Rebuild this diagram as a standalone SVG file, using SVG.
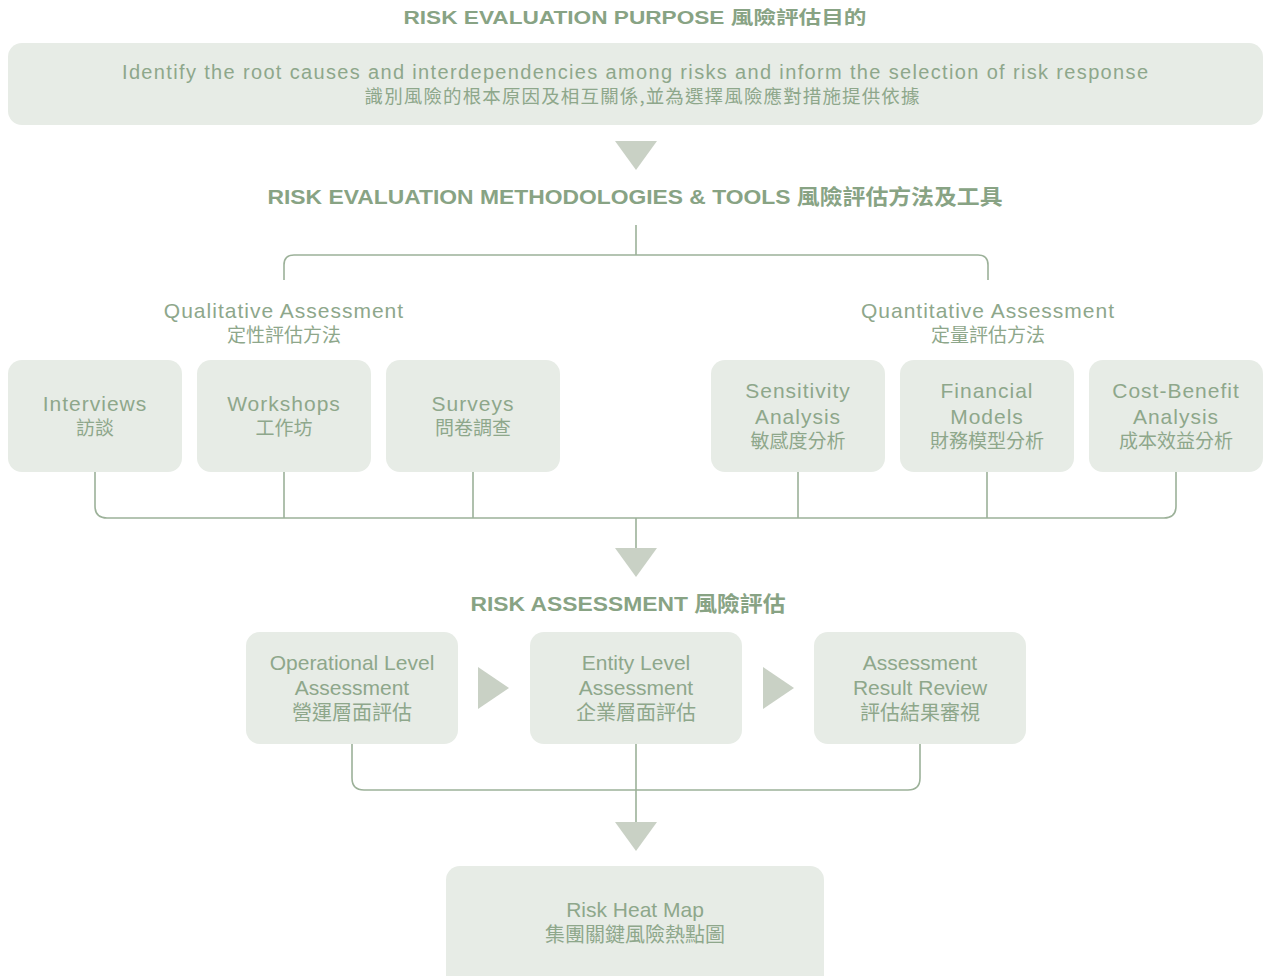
<svg xmlns="http://www.w3.org/2000/svg" width="1263" height="976" viewBox="0 0 1263 976">
<style>
.box{fill:#e7ece6}
.tri{fill:#c9d1c5}
.ln{fill:none;stroke:#9cb199;stroke-width:1.6}
.ttl{font-family:"Liberation Sans","Noto Sans CJK TC",sans-serif;font-weight:bold;fill:#88a384;text-anchor:middle}
.en{font-family:"Liberation Sans","Noto Sans CJK TC",sans-serif;fill:#8ea78b;text-anchor:middle;font-size:21px;letter-spacing:1px}
.cn{font-family:"Noto Sans CJK TC","Liberation Sans",sans-serif;fill:#8ea78b;text-anchor:middle;font-size:19px}
.en2{font-family:"Liberation Sans","Noto Sans CJK TC",sans-serif;fill:#8ea78b;text-anchor:middle;font-size:21px}
</style>
<rect width="1263" height="976" fill="#ffffff"/>

<text class="ttl" x="635" y="24" font-size="18" textLength="463" lengthAdjust="spacingAndGlyphs">RISK EVALUATION PURPOSE 風險評估目的</text>

<g id="purpose">
<rect class="box" x="8" y="43" width="1255" height="82" rx="14"/>
<text class="en" x="635" y="79" style="font-size:20px;letter-spacing:0px" textLength="1026" lengthAdjust="spacing">Identify the root causes and interdependencies among risks and inform the selection of risk response</text>
<text class="cn" x="642" y="103" style="font-size:18.5px" textLength="555" lengthAdjust="spacing">識別風險的根本原因及相互關係,並為選擇風險應對措施提供依據</text>
</g>

<text class="ttl" x="635" y="204" font-size="21" textLength="735" lengthAdjust="spacingAndGlyphs">RISK EVALUATION METHODOLOGIES &amp; TOOLS 風險評估方法及工具</text>

<g id="qualitative-label">
<text class="en" x="284" y="318">Qualitative Assessment</text>
<text class="cn" x="284" y="342">定性評估方法</text>
</g>
<g id="quantitative-label">
<text class="en" x="988" y="318">Quantitative Assessment</text>
<text class="cn" x="988" y="342">定量評估方法</text>
</g>

<g id="connectors">
<path class="ln" d="M636 225 V255"/>
<path class="ln" d="M284 280 V265 Q284 255 294 255 H978 Q988 255 988 265 V280"/>
<path class="ln" d="M95 472 V506 Q95 518 107 518 H1164 Q1176 518 1176 506 V472"/>
<path class="ln" d="M284 472 V518 M473 472 V518 M798 472 V518 M987 472 V518"/>
<path class="ln" d="M636 518 V548"/>
<path class="ln" d="M352 744 V778 Q352 790 364 790 H908 Q920 790 920 778 V744"/>
<path class="ln" d="M636 744 V822"/>
<polygon class="tri" points="615,141 657,141 636,170"/>
<polygon class="tri" points="615,548 657,548 636,577"/>
<polygon class="tri" points="615,822 657,822 636,851"/>
<polygon class="tri" points="478,667 478,709 509,688"/>
<polygon class="tri" points="763,667 763,709 794,688"/>
</g>

<g id="interviews">
<rect class="box" x="8" y="360" width="174" height="112" rx="14"/>
<text class="en" x="95" y="411">Interviews</text>
<text class="cn" x="95" y="435">訪談</text>
</g>
<g id="workshops">
<rect class="box" x="197" y="360" width="174" height="112" rx="14"/>
<text class="en" x="284" y="411">Workshops</text>
<text class="cn" x="284" y="435">工作坊</text>
</g>
<g id="surveys">
<rect class="box" x="386" y="360" width="174" height="112" rx="14"/>
<text class="en" x="473" y="411">Surveys</text>
<text class="cn" x="473" y="435">問卷調查</text>
</g>
<g id="sensitivity">
<rect class="box" x="711" y="360" width="174" height="112" rx="14"/>
<text class="en" x="798" y="398">Sensitivity</text>
<text class="en" x="798" y="424">Analysis</text>
<text class="cn" x="798" y="448">敏感度分析</text>
</g>
<g id="financial">
<rect class="box" x="900" y="360" width="174" height="112" rx="14"/>
<text class="en" x="987" y="398">Financial</text>
<text class="en" x="987" y="424">Models</text>
<text class="cn" x="987" y="448">財務模型分析</text>
</g>
<g id="costbenefit">
<rect class="box" x="1089" y="360" width="174" height="112" rx="14"/>
<text class="en" x="1176" y="398">Cost-Benefit</text>
<text class="en" x="1176" y="424">Analysis</text>
<text class="cn" x="1176" y="448">成本效益分析</text>
</g>

<text class="ttl" x="628" y="611" font-size="21" textLength="315" lengthAdjust="spacingAndGlyphs">RISK ASSESSMENT 風險評估</text>

<g id="operational">
<rect class="box" x="246" y="632" width="212" height="112" rx="14"/>
<text class="en2" x="352" y="670">Operational Level</text>
<text class="en2" x="352" y="695">Assessment</text>
<text class="cn" x="352" y="720" style="font-size:20px">營運層面評估</text>
</g>
<g id="entity">
<rect class="box" x="530" y="632" width="212" height="112" rx="14"/>
<text class="en2" x="636" y="670">Entity Level</text>
<text class="en2" x="636" y="695">Assessment</text>
<text class="cn" x="636" y="720" style="font-size:20px">企業層面評估</text>
</g>
<g id="review">
<rect class="box" x="814" y="632" width="212" height="112" rx="14"/>
<text class="en2" x="920" y="670">Assessment</text>
<text class="en2" x="920" y="695">Result Review</text>
<text class="cn" x="920" y="720" style="font-size:20px">評估結果審視</text>
</g>

<g id="heatmap">
<rect class="box" x="446" y="866" width="378" height="124" rx="14"/>
<text class="en2" x="635" y="917">Risk Heat Map</text>
<text class="cn" x="635" y="942" style="font-size:20px">集團關鍵風險熱點圖</text>
</g>
</svg>
